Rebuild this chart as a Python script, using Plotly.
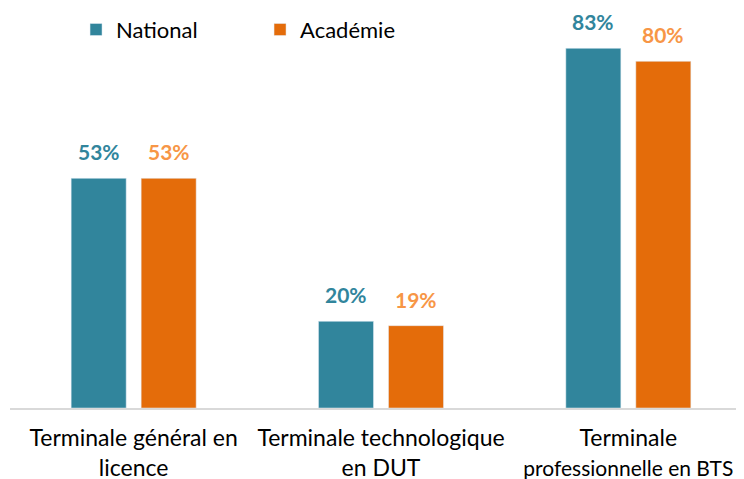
import plotly.graph_objects as go

categories = [
    "Terminale général en<br>licence",
    "Terminale technologique<br>en DUT",
    "Terminale<br>professionnelle en BTS",
]
national = [53, 20, 83]
academie = [53, 19, 80]

TEAL = "#31859C"
ORANGE = "#E46C0A"
ORANGE_LABEL = "#F79646"
FONT = "Lato, Open Sans, Arial"

# la dernière ligne est un peu plus longue en Lato qu'en Calibri
ticktext = [c.replace("professionnelle en BTS",
                      "<span style='font-size:21px'>professionnelle en BTS</span>")
            for c in categories]

fig = go.Figure()
fig.add_trace(go.Bar(name="National", x=categories, y=national, marker_color=TEAL))
fig.add_trace(go.Bar(name="Académie", x=categories, y=academie, marker_color=ORANGE))

# étiquettes de valeur au-dessus des barres
for vals, shift, color in [(national, -35, TEAL), (academie, 35, ORANGE_LABEL)]:
    for cat, v in zip(categories, vals):
        fig.add_annotation(
            x=cat, y=v, text=f"{v}%", showarrow=False,
            xshift=shift, yshift=12, yanchor="bottom",
            font=dict(family=FONT, size=21, color=color, weight="bold"),
        )

# la page a une marge de 8 px autour du graphique
fig.update_layout(
    width=744, height=479,
    margin=dict(l=2, r=0, t=10, b=79),
    paper_bgcolor="white", plot_bgcolor="white",
    barmode="group", bargap=0.434, bargroupgap=0.214,
    font=dict(family=FONT, size=23, color="#000000"),
    showlegend=True,
    legend=dict(
        orientation="h", x=0.089, y=0.97, xanchor="left", yanchor="middle",
        font=dict(size=22), entrywidth=139, entrywidthmode="pixels",
        bgcolor="rgba(0,0,0,0)",
    ),
)
fig.update_xaxes(
    range=[-0.5, 2.5], showline=True, linecolor="#D9D9D9", linewidth=2,
    ticks="", tickfont=dict(size=23), automargin=False,
    tickmode="array", tickvals=categories, ticktext=ticktext,
    ticklabelstandoff=8,
)
fig.update_yaxes(range=[0, 90], visible=False, showgrid=False)

fig.write_html("out.html")
